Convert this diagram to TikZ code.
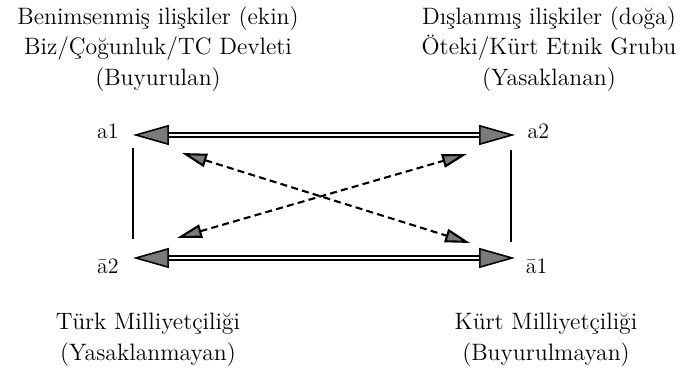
\documentclass[tikz,border=0pt]{standalone}
\usepackage{fontspec}
\usetikzlibrary{positioning,calc,arrows.meta}
\definecolor{tipgray}{HTML}{7A7A7A}

\begin{document}
\begin{tikzpicture}[
          x=0.02cm, y=-0.02cm,
          txt/.style={align=center,inner sep=0pt,font=\fontsize{13.5}{17.5}\selectfont},
          lbl/.style={inner sep=0pt,font=\fontsize{12.5}{14}\selectfont},
          dbl/.style={double,line width=0.9pt,double distance=1.6pt,
            {Triangle[length=7.2mm,width=4mm,fill=tipgray]}-{Triangle[length=7.2mm,width=4mm,fill=tipgray]}},
          cross/.style={line width=1.2pt,dash pattern=on 4pt off 2.4pt,
            {Triangle[length=5mm,width=2.7mm,fill=tipgray]}-{Triangle[length=5mm,width=2.7mm,fill=tipgray]}},
          side/.style={line width=0.9pt}
        ]
        \useasboundingbox (0,0) rectangle (687,378);
        % corners of the square
        \coordinate (A1) at (133,135);
        \coordinate (A2) at (515,135);
        \coordinate (B2) at (133,258);
        \coordinate (B1) at (515,258);
        \node[lbl,left=8pt of A1,yshift=2pt] (a1) {a1};
        \node[lbl,right=7pt of A2,yshift=2pt] (a2) {a2};
        \node[lbl,left=8pt of B2,yshift=-5pt] (na2) {ā2};
        \node[lbl,right=6pt of B1,yshift=-5pt] (na1) {ā1};
        % captions
        \node[txt] (ekin) at (158,49) {Benimsenmiş ilişkiler (ekin)\\Biz/Çoğunluk/TC Devleti\\(Buyurulan)};
        \node[txt] (doga) at (549,49) {Dışlanmış ilişkiler (doğa)\\Öteki/Kürt Etnik Grubu\\(Yasaklanan)};
        \node[txt] (turk) at (148,340) {Türk Milliyetçiliği\\(Yasaklanmayan)};
        \node[txt] (kurt) at (546,340) {Kürt Milliyetçiliği\\(Buyurulmayan)};
        % square
        \draw[dbl] (A1) -- (A2);
        \draw[dbl] (B2) -- (B1);
        \draw[side] ($(A1)+(0,13)$) -- ($(B2)+(0,-19)$);
        \draw[side] ($(A2)+(-4,15)$) -- ($(B1)+(-4,-16)$);
        \draw[cross] ($(A1)+(49,18)$) -- ($(B1)+(-45,-15)$);
        \draw[cross] ($(B2)+(44,-20)$) -- ($(A2)+(-48,19)$);
      \end{tikzpicture}
\end{document}
